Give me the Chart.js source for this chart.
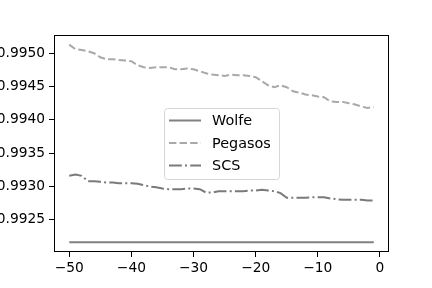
<!DOCTYPE html>
<html>
<head>
<meta charset="utf-8">
<script src="https://cdn.jsdelivr.net/npm/chart.js@4"></script>
<style>
  html, body { margin: 0; padding: 0; background: #fff; overflow: hidden; }
</style>
</head>
<body>
<canvas id="chart" width="432" height="288"></canvas>
<script>
// x positions (steps before the end)
const steps = [-50, -49, -48, -47, -46, -45, -44, -43, -42, -41,
               -40, -39, -38, -37, -36, -35, -34, -33, -32, -31,
               -30, -29, -28, -27, -26, -25, -24, -23, -22, -21,
               -20, -19, -18, -17, -16, -15, -14, -13, -12, -11,
               -10, -9, -8, -7, -6, -5, -4, -3, -2, -1];

const wolfe = [0.992165, 0.992165, 0.992165, 0.992165, 0.992165, 0.992165, 0.992165, 0.992165, 0.992165, 0.992165,
               0.992165, 0.992165, 0.992165, 0.992165, 0.992165, 0.992165, 0.992165, 0.992165, 0.992165, 0.992165,
               0.992165, 0.992165, 0.992165, 0.992165, 0.992165, 0.992165, 0.992165, 0.992165, 0.992165, 0.992165,
               0.992165, 0.992165, 0.992165, 0.992165, 0.992165, 0.992165, 0.992165, 0.992165, 0.992165, 0.992165,
               0.992165, 0.992165, 0.992165, 0.992165, 0.992165, 0.992165, 0.992165, 0.992165, 0.992165, 0.992165];

const pegasos = [0.99513, 0.99506, 0.99505, 0.99503, 0.99500, 0.99494, 0.99491, 0.99491, 0.99490, 0.99489,
                 0.99488, 0.99482, 0.99479, 0.99478, 0.99479, 0.99479, 0.99479, 0.99476, 0.99476, 0.99477,
                 0.99476, 0.99473, 0.99470, 0.99468, 0.99467, 0.99466, 0.99468, 0.99467, 0.99467, 0.99466,
                 0.99464, 0.99458, 0.99452, 0.99449, 0.99452, 0.99449, 0.99443, 0.99441, 0.99438, 0.99437,
                 0.99435, 0.99434, 0.99428, 0.99427, 0.99427, 0.99425, 0.99423, 0.99420, 0.99418, 0.99419];

const scs = [0.99316, 0.99318, 0.99316, 0.99308, 0.99308, 0.99307, 0.99306, 0.99306, 0.99305, 0.99305,
             0.99305, 0.99304, 0.99302, 0.99300, 0.99299, 0.99297, 0.99296, 0.99296, 0.99296, 0.99297,
             0.99297, 0.99296, 0.99291, 0.99291, 0.99293, 0.99293, 0.99293, 0.99293, 0.99293, 0.99294,
             0.99294, 0.99295, 0.99294, 0.99293, 0.99290, 0.99283, 0.99283, 0.99283, 0.99283, 0.99284,
             0.99284, 0.99284, 0.99282, 0.99281, 0.99280, 0.99280, 0.99280, 0.99280, 0.99279, 0.99279];

const xTicks = [-50, -40, -30, -20, -10, 0];
const yTicks = [0.9925, 0.9930, 0.9935, 0.9940, 0.9945, 0.9950];

const toPoints = arr => steps.map((x, i) => ({ x: x, y: arr[i] }));
const minus = v => (v < 0 ? '\u2212' + Math.abs(v) : String(v));

// box around the plot area
const frame = {
  id: 'frame',
  afterDatasetsDraw(chart) {
    const { ctx, chartArea } = chart;
    ctx.save();
    ctx.strokeStyle = '#000';
    ctx.lineWidth = 1;
    ctx.strokeRect(Math.round(chartArea.left) + 0.5, Math.round(chartArea.top) + 0.5,
                   Math.round(chartArea.width) - 1, Math.round(chartArea.height) - 1);
    ctx.restore();
  }
};

// legend drawn in the middle of the plot, like loc='center'
const centerLegend = {
  id: 'centerLegend',
  afterDraw(chart) {
    const { ctx, chartArea } = chart;
    const w = 115, h = 71;
    const x = Math.round((chartArea.left + chartArea.right) / 2 - w / 2);
    const y = Math.round((chartArea.top + chartArea.bottom) / 2 - h / 2);
    ctx.save();
    ctx.fillStyle = 'rgba(255,255,255,0.8)';
    ctx.strokeStyle = '#d6d6d6';
    ctx.lineWidth = 1;
    ctx.beginPath();
    ctx.roundRect(x + 0.5, y + 0.5, w, h, 3);
    ctx.fill();
    ctx.stroke();
    chart.data.datasets.forEach((ds, i) => {
      const ry = y + 12.5 + i * 22.5;
      ctx.strokeStyle = ds.borderColor;
      ctx.lineWidth = ds.borderWidth;
      ctx.setLineDash(ds.borderDash || []);
      ctx.beginPath();
      ctx.moveTo(x + 5, ry);
      ctx.lineTo(x + 37, ry);
      ctx.stroke();
      ctx.setLineDash([]);
      ctx.fillStyle = '#000';
      ctx.font = '14.4px "DejaVu Sans"';
      ctx.textBaseline = 'middle';
      ctx.fillText(ds.label, x + 48, ry + 1);
    });
    ctx.restore();
  }
};

new Chart(document.getElementById('chart').getContext('2d'), {
  type: 'line',
  data: {
    datasets: [
      { label: 'Wolfe', data: toPoints(wolfe), borderColor: '#808080', borderWidth: 2 },
      { label: 'Pegasos', data: toPoints(pegasos), borderColor: '#a9a9a9', borderWidth: 2, borderDash: [7.4, 3.2] },
      { label: 'SCS', data: toPoints(scs), borderColor: '#7a7a7a', borderWidth: 2, borderDash: [12.8, 3.2, 2, 3.2] }
    ]
  },
  options: {
    responsive: false,
    animation: false,
    devicePixelRatio: 1,
    elements: { point: { radius: 0 }, line: { tension: 0 } },
    layout: { padding: { top: 35, right: 43, left: 0, bottom: 0 } },
    plugins: { legend: { display: false }, tooltip: { enabled: false } },
    scales: {
      x: {
        type: 'linear',
        min: -52.45,
        max: 1.45,
        afterBuildTicks: s => { s.ticks = xTicks.map(v => ({ value: v })); },
        afterFit: s => { s.height = 36; },
        ticks: {
          callback: v => minus(v),
          color: '#000',
          padding: 3,
          maxRotation: 0,
          font: { family: 'DejaVu Sans', size: 13.8 }
        },
        grid: { drawOnChartArea: false, color: '#000', tickLength: 5 },
        border: { display: false }
      },
      y: {
        type: 'linear',
        min: 0.992017,
        max: 0.995274,
        afterBuildTicks: s => { s.ticks = yTicks.map(v => ({ value: v })); },
        afterFit: s => { s.width = 54; },
        ticks: {
          callback: v => v.toFixed(4),
          color: '#000',
          padding: 4,
          font: { family: 'DejaVu Sans', size: 13.8 }
        },
        grid: { drawOnChartArea: false, color: '#000', tickLength: 5 },
        border: { display: false }
      }
    }
  },
  plugins: [frame, centerLegend]
});
</script>
</body>
</html>
